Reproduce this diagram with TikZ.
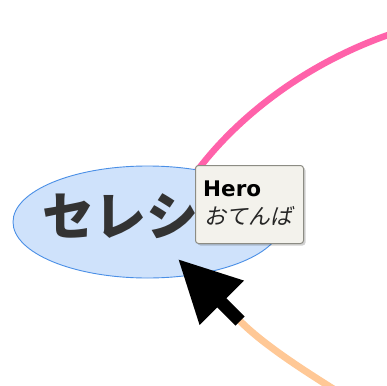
\documentclass[tikz,border=0pt]{standalone}
\usepackage{fontspec}
\setmainfont{DejaVu Sans}
\newfontfamily\cjk{Noto Sans CJK JP}
\newfontfamily\cjkslant{Noto Sans CJK JP}[FakeSlant=0.2]
\usetikzlibrary{shapes.geometric,arrows.meta,shadows}
\definecolor{pinkline}{HTML}{FF62AA}
\definecolor{peach}{HTML}{FFC896}
\definecolor{ellfill}{HTML}{CFE2FB}
\definecolor{ellborder}{HTML}{4A8FE6}
\definecolor{tipfill}{HTML}{F3F2EC}
\definecolor{tipborder}{HTML}{8C8C84}
\definecolor{darktext}{HTML}{333333}
\tikzset{
  topic/.style={ellipse, draw=ellborder, line width=0.9pt, fill=ellfill, minimum width=269pt, minimum height=112pt, inner sep=0pt},
  tipbox/.style={rectangle, rounded corners=3pt, draw=tipborder, line width=1pt, fill=tipfill, minimum width=108pt, minimum height=78pt, anchor=north west, inner sep=0pt,
    drop shadow={shadow xshift=2pt, shadow yshift=-2pt, opacity=0.18, fill=black}},
  pinkrel/.style={draw=pinkline, line width=6.5pt},
  peachrel/.style={draw=peach, line width=7pt},
  bigarrow/.style={draw=black, line width=13pt, -{Triangle[length=62pt,width=59pt]}},
}
\begin{document}
\begin{tikzpicture}[x=1pt,y=-1pt]
\useasboundingbox (0,0) rectangle (387,385);
% pink connector (behind everything)
\coordinate (pinkstart) at (194,175);
\coordinate (pinkend) at (400,31);
\draw[pinkrel] (pinkstart) .. controls (240,112) and (315,58) .. (pinkend);
% peach connector
\coordinate (peachend) at (335,390);
\coordinate (arrowtail) at (240,321);
\draw[peachrel] (arrowtail) .. controls (263,344) and (300,368) .. (peachend);
% topic ellipse
\node[topic] (cel) at (147.5,222) {};
\node[anchor=base west, inner sep=0pt, text=darktext, font=\cjk\bfseries\fontsize{52}{60}\selectfont] (celtext) at (42,235) {セレシ};
% black arrow
\coordinate (arrowtip) at (178,259);
\draw[bigarrow] (arrowtail) -- (arrowtip);
% tooltip
\node[tipbox] (tip) at (195,165) {};
\node[anchor=base west, inner sep=0pt, font=\bfseries\fontsize{21.5}{24}\selectfont] (hero) at (203,196) {Hero};
\node[anchor=base west, inner sep=0pt, font=\cjkslant\fontsize{22}{26}\selectfont, text=black!85] (oten) at (204,224) {おてんば};
\end{tikzpicture}
\end{document}
